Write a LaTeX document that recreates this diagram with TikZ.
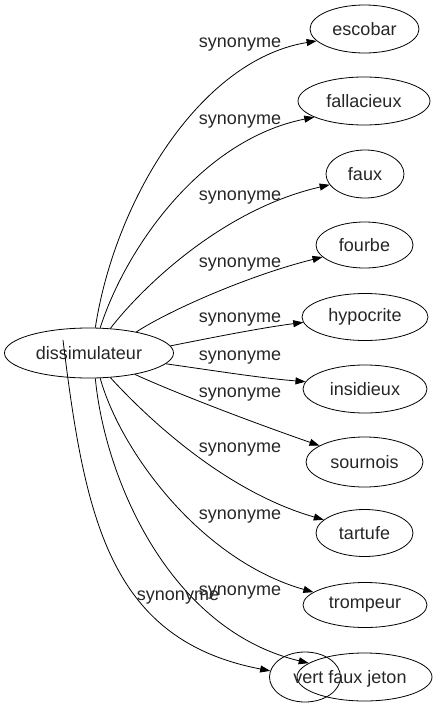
\documentclass[tikz,border=0pt]{standalone}
\usepackage{fontspec}
\setmainfont{Liberation Sans}
\usetikzlibrary{arrows.meta,shapes.geometric}
\begin{document}
\begin{tikzpicture}[x=1pt,y=-1pt,
  every node/.style={font=\fontsize{18}{20}\selectfont, text=black!85},
  term/.style={draw, ellipse, inner sep=0pt, line width=0.8pt},
  lbl/.style={inner sep=0pt},
  syn/.style={draw, line width=0.8pt, -{Triangle[length=10pt,width=7pt]}},
]
\useasboundingbox (0,0) rectangle (437,707);
% nodes
\node[term, minimum width=169pt, minimum height=50pt] (d) at (89,353) {dissimulateur};
\node[term, minimum width=109pt, minimum height=48pt] (escobar) at (364.5,29) {escobar};
\node[term, minimum width=132pt, minimum height=48pt] (fallacieux) at (364,101) {fallacieux};
\node[term, minimum width=78pt, minimum height=48pt] (faux) at (365,174) {faux};
\node[term, minimum width=97pt, minimum height=46pt] (fourbe) at (364.5,245) {fourbe};
\node[term, minimum width=126pt, minimum height=47pt] (hypocrite) at (365,317) {hypocrite};
\node[term, minimum width=124pt, minimum height=48pt] (insidieux) at (365,389) {insidieux};
\node[term, minimum width=117pt, minimum height=50pt] (sournois) at (364.5,462) {sournois};
\node[term, minimum width=97pt, minimum height=47pt] (tartufe) at (364.5,533) {tartufe};
\node[term, minimum width=124pt, minimum height=45pt] (trompeur) at (365,605) {trompeur};
\node[term, minimum width=71pt, minimum height=50pt] (vsmall) at (305,677) {};
\node[term, minimum width=135pt, minimum height=48pt] (vbig) at (364.5,677) {};
\node[lbl] (vtext) at (350,679) {vert faux jeton};
\coordinate (vstart) at (63,340);
% edges
\draw[syn] (d.76) .. controls (115,200) and (200,60) .. (escobar.194);
\draw[syn] (d.66) .. controls (125,250) and (200,140) .. (fallacieux.198);
\draw[syn] (d.49) .. controls (140,290) and (220,210) .. (faux.197);
\draw[syn] (d.24) .. controls (170,310) and (250,275) .. (fourbe.196);
\draw[syn] (d.5) .. controls (210,338) and (260,328) .. (hypocrite.185.5);
\draw[syn] (d.-8) .. controls (210,370) and (260,378) .. (insidieux.173.3);
\draw[syn] (d.-25.5) .. controls (180,395) and (260,425) .. (sournois.160.3);
\draw[syn] (d.-49) .. controls (140,410) and (220,490) .. (tartufe.162.6);
\draw[syn] (d.-66) .. controls (120,450) and (200,560) .. (trompeur.166);
\draw[syn] (d.-76) .. controls (105,480) and (170,630) .. (vbig.166.3);
\draw[syn] (vstart) .. controls (85,520) and (110,640) .. (vsmall.170);
% labels
\node[lbl] (l1) at (240,45) {synonyme};
\node[lbl] (l2) at (240,122) {synonyme};
\node[lbl] (l3) at (240,198) {synonyme};
\node[lbl] (l4) at (240,265) {synonyme};
\node[lbl] (l5) at (240,320) {synonyme};
\node[lbl] (l6) at (240,358) {synonyme};
\node[lbl] (l7) at (240,395) {synonyme};
\node[lbl] (l8) at (240,450) {synonyme};
\node[lbl] (l9) at (240,517) {synonyme};
\node[lbl] (l10) at (240,593) {synonyme};
\node[lbl] (l11) at (178,598) {synonyme};
\end{tikzpicture}
\end{document}
